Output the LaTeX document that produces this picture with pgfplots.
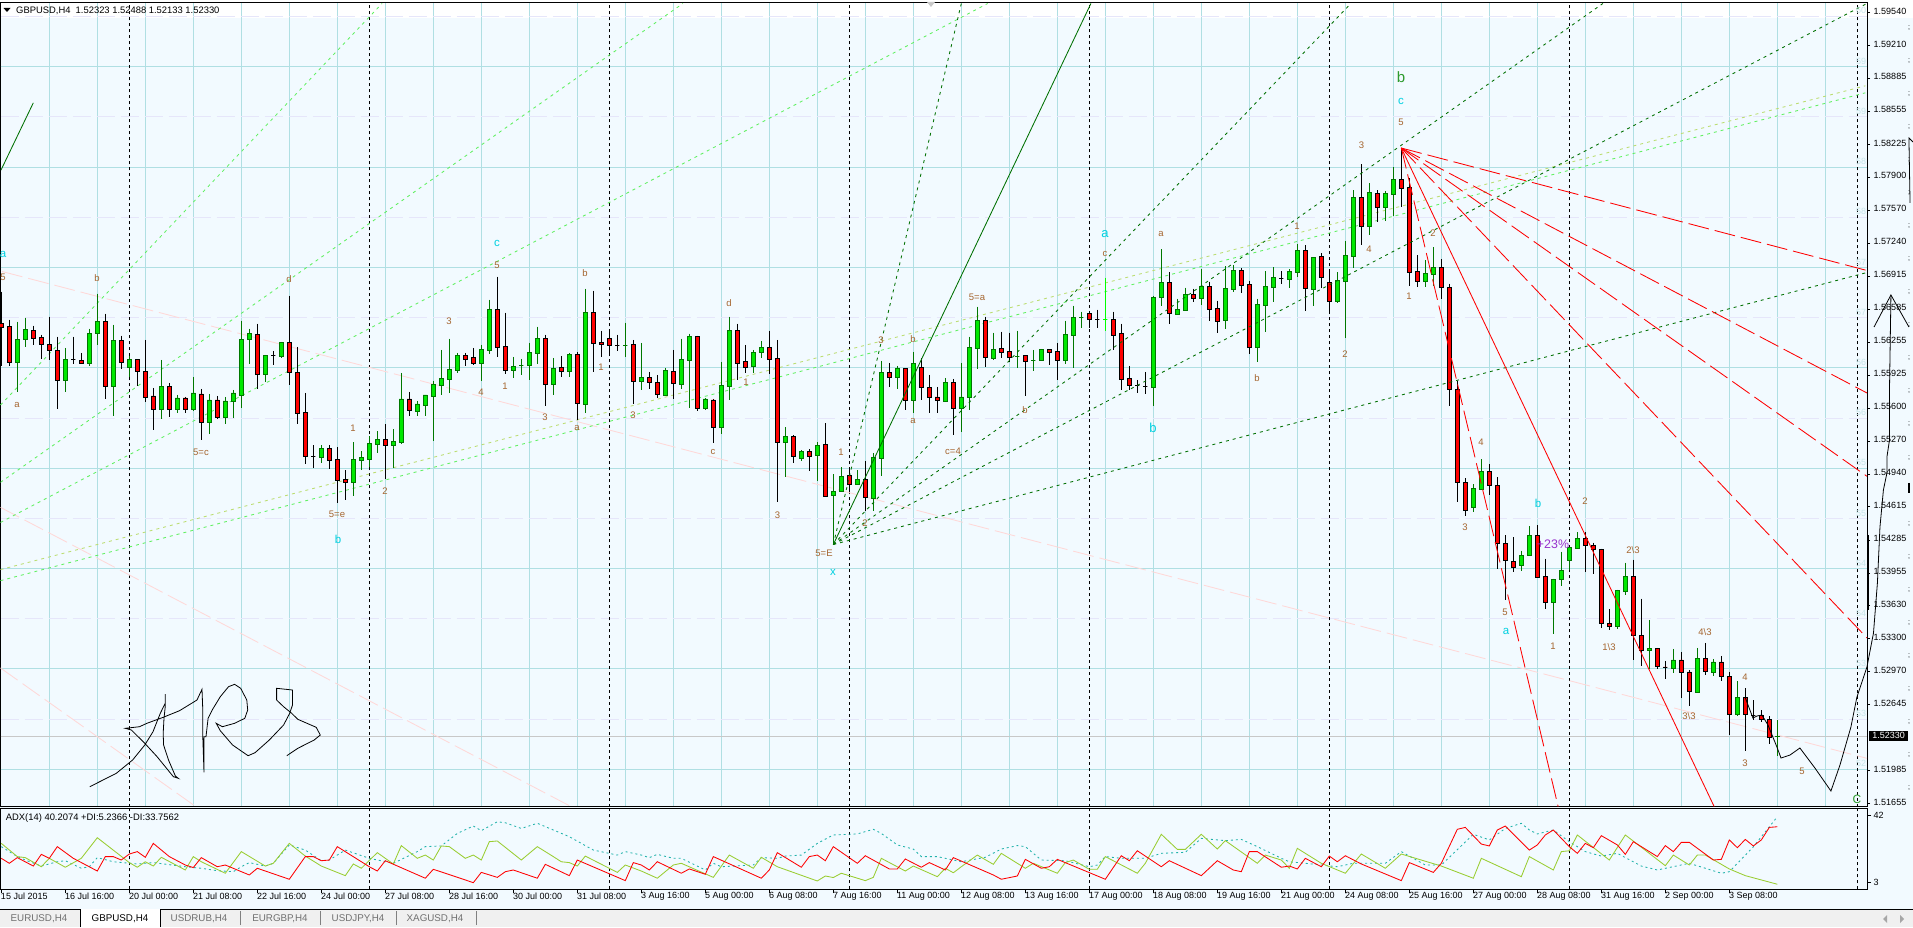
\documentclass[border=0pt]{standalone}
\usepackage{fontspec}
\usepackage{pgfplots}
\pgfplotsset{compat=1.18}
\setmainfont{Liberation Sans}
\definecolor{chartbg}{HTML}{F2FAFF}
\definecolor{gridc}{HTML}{B0DFE3}
\definecolor{gridd}{HTML}{E6E6FA}
\definecolor{upedge}{HTML}{007800}
\definecolor{upfill}{HTML}{00E800}
\definecolor{limeln}{HTML}{60F060}
\definecolor{yellln}{HTML}{BBDD70}
\definecolor{pinkln}{HTML}{FFD8D8}
\definecolor{fanln}{HTML}{007000}
\definecolor{adxg}{HTML}{9ACD32}
\definecolor{adxt}{HTML}{20B2AA}
\definecolor{wave}{HTML}{A5652F}
\definecolor{wavec}{HTML}{00D0E0}
\definecolor{waveg}{HTML}{2E9B2E}
\definecolor{faint}{HTML}{C8E6EA}
\definecolor{tabbg}{HTML}{F0F0F0}
\definecolor{tabtx}{HTML}{707070}
\definecolor{bidln}{HTML}{C8C8C8}
\definecolor{purp}{HTML}{9932CC}
% body and wick of one candle
\newcommand\body[6]{%
  \pgfmathsetmacro\xa{#1-0.26}\pgfmathsetmacro\xb{#1+0.26}%
  \edef\tmp{\noexpand\addplot[draw=#5,fill=#6,line width=0.9pt] coordinates {(\xa,#2)(\xb,#2)(\xb,#3)(\xa,#3)(\xa,#2)};}\tmp}
% i open high low close
\def\U#1 #2 #3 #4 #5;{\addplot[upedge,line width=0.9pt] coordinates {(#1,#3)(#1,#4)};\body{#1}{#2}{#5}{}{upedge}{upfill}}
\def\D#1 #2 #3 #4 #5;{\addplot[black,line width=0.9pt] coordinates {(#1,#3)(#1,#4)};\body{#1}{#2}{#5}{}{black}{red}}
\def\L#1 #2 #3 #4 #5;{\addplot[green,line width=0.9pt] coordinates {(#1,#3)(#1,#4)};\body{#1}{#2}{#5}{}{green}{green}}
\newcommand\lbl[5]{\node[text=#3,font=\fontsize{#4}{#4}\selectfont,inner sep=0pt] at (#1,{927-#2}) {#5};}
\pgfplotsset{px/.style={x filter/.expression={(x-1.3)/8},y filter/.expression={1.59665-y*0.00009963}},
  fine/.style={line width=0.85pt,dash pattern=on 3pt off 4pt},
  long/.style={line width=0.85pt,dash pattern=on 21pt off 6pt}}
\begin{document}
\begin{tikzpicture}
\useasboundingbox (0pt,0pt) rectangle (1913pt,927pt);
\fill[chartbg] (0pt,0pt) rectangle (1913pt,909pt);
\fill[white] (0pt,925pt) rectangle (1913pt,927pt);
\begin{axis}[
    name=main,
    at={(0.5pt,120.5pt)},anchor=south west,
    scale only axis,width=1866.5pt,height=803.5pt,
    xmin=-0.1,xmax=233.2125,ymin=1.5163,ymax=1.59635,
    clip=false,no markers,
    axis line style={black,line width=1pt},
    xtick={6,12,...,228},xticklabels={},x tick style={draw=none},
    xmajorgrids=true,
    major grid style={gridc,line width=1pt},
    ytick={1.5954,1.5921,1.58885,1.58555,1.58225,1.579,1.5757,1.5724,1.56915,1.56585,1.56255,1.55925,1.556,1.5527,1.5494,1.54615,1.54285,1.53955,1.5363,1.533,1.5297,1.52645,1.51985,1.51655},
    yticklabels={1.59540,1.59210,1.58885,1.58555,1.58225,1.57900,1.57570,1.57240,1.56915,1.56585,1.56255,1.55925,1.55600,1.55270,1.54940,1.54615,1.54285,1.53955,1.53630,1.53300,1.52970,1.52645,1.51985,1.51655},
    ytick pos=right,yticklabel pos=right,tick align=outside,
    major tick length=3pt,minor tick length=0pt,
    y tick style={black,line width=1pt},
    yticklabel style={font=\fontsize{9}{9}\selectfont,anchor=west,inner sep=0pt,xshift=3.5pt,yshift=1.5pt},
    /pgf/number format/assume math mode=true,
    extra y ticks={1.59,1.58,1.57,1.56,1.55,1.54,1.53,1.52},
    extra y tick labels={},
    extra y tick style={grid=major,major tick length=0pt},
    minor ytick={1.595,1.585,1.575,1.565,1.555,1.545,1.535,1.525},
    yminorgrids=true,
    minor grid style={gridd,line width=1pt,dash pattern=on 18pt off 6pt},
  ]
  \addplot[bidln,line width=1pt] coordinates {(-0.1,1.5233)(233.2,1.5233)};
  \pgfplotsinvokeforeach{16,46,76,106,136,166,196,232}{
    \addplot[black,line width=0.9pt,dash pattern=on 3pt off 3pt] coordinates {(#1,1.5163)(#1,1.59635)};}
  % pale lines
  \addplot[pinkln,long] coordinates {(0.1,1.5696)(233.2,1.5211)};
  \addplot[pinkln,long] coordinates {(-0.1,1.5461)(71.2,1.5163)};
  \addplot[pinkln,long] coordinates {(-0.1,1.5301)(24.3,1.5163)};
  \addplot[limeln,fine] coordinates {(-0.1,1.5563)(47.6,1.5963)};
  \addplot[limeln,fine] coordinates {(-0.1,1.5486)(85.2,1.5963)};
  \addplot[limeln,fine] coordinates {(-0.1,1.5446)(123.3,1.5963)};
  \addplot[yellln,fine] coordinates {(-0.1,1.5399)(233,1.5881)};
  \addplot[limeln,fine] coordinates {(-0.1,1.5388)(233,1.5874)};
  % candles
\D 0 1.5644 1.5676 1.5602 1.5640;
\D 1 1.5641 1.5648 1.5602 1.5605;
\U 2 1.5605 1.5646 1.5576 1.5628;
\U 3 1.5628 1.5650 1.5621 1.5638;
\D 4 1.5637 1.5642 1.5623 1.5629;
\D 5 1.5630 1.5633 1.5609 1.5623;
\D 6 1.5623 1.5651 1.5608 1.5617;
\D 7 1.5617 1.5631 1.5559 1.5587;
\U 8 1.5587 1.5620 1.5576 1.5608;
\D 9 1.5608 1.5631 1.5604 1.5608;
\D 10 1.5607 1.5615 1.5604 1.5604;
\U 11 1.5604 1.5639 1.5602 1.5634;
\U 12 1.5634 1.5674 1.5623 1.5646;
\D 13 1.5646 1.5654 1.5569 1.5581;
\U 14 1.5581 1.5643 1.5552 1.5627;
\D 15 1.5627 1.5632 1.5599 1.5605;
\U 16 1.5600 1.5612 1.5591 1.5608;
\D 17 1.5608 1.5608 1.5582 1.5596;
\D 18 1.5596 1.5628 1.5566 1.5571;
\D 19 1.5572 1.5580 1.5538 1.5559;
\U 20 1.5559 1.5608 1.5549 1.5581;
\D 21 1.5581 1.5585 1.5551 1.5559;
\U 22 1.5559 1.5573 1.5555 1.5570;
\D 23 1.5570 1.5571 1.5555 1.5559;
\U 24 1.5559 1.5591 1.5557 1.5575;
\D 25 1.5574 1.5579 1.5528 1.5546;
\U 26 1.5546 1.5574 1.5534 1.5568;
\D 27 1.5568 1.5572 1.5549 1.5551;
\U 28 1.5551 1.5571 1.5544 1.5567;
\U 29 1.5567 1.5578 1.5550 1.5575;
\U 30 1.5573 1.5647 1.5560 1.5628;
\U 31 1.5628 1.5639 1.5604 1.5634;
\D 32 1.5633 1.5644 1.5579 1.5593;
\U 33 1.5593 1.5613 1.5586 1.5612;
\D 34 1.5612 1.5617 1.5603 1.5612;
\U 35 1.5611 1.5626 1.5610 1.5625;
\D 36 1.5625 1.5672 1.5583 1.5595;
\D 37 1.5595 1.5621 1.5544 1.5555;
\D 38 1.5556 1.5575 1.5504 1.5512;
\D 39 1.5512 1.5523 1.5500 1.5512;
\U 40 1.5511 1.5523 1.5505 1.5520;
\D 41 1.5520 1.5523 1.5499 1.5508;
\D 42 1.5509 1.5521 1.5465 1.5488;
\D 43 1.5489 1.5498 1.5468 1.5486;
\U 44 1.5486 1.5526 1.5472 1.5509;
\U 45 1.5508 1.5517 1.5498 1.5511;
\U 46 1.5509 1.5532 1.5501 1.5525;
\U 47 1.5524 1.5537 1.5515 1.5529;
\D 48 1.5529 1.5544 1.5489 1.5523;
\U 49 1.5523 1.5539 1.5500 1.5527;
\U 50 1.5526 1.5595 1.5524 1.5569;
\D 51 1.5569 1.5576 1.5552 1.5558;
\U 52 1.5557 1.5567 1.5552 1.5564;
\U 53 1.5563 1.5573 1.5552 1.5573;
\U 54 1.5572 1.5587 1.5527 1.5583;
\U 55 1.5582 1.5618 1.5573 1.5589;
\U 56 1.5588 1.5629 1.5575 1.5598;
\U 57 1.5597 1.5615 1.5595 1.5612;
\D 58 1.5612 1.5615 1.5602 1.5608;
\D 59 1.5610 1.5620 1.5603 1.5604;
\U 60 1.5604 1.5623 1.5587 1.5618;
\U 61 1.5617 1.5668 1.5614 1.5658;
\D 62 1.5658 1.5691 1.5611 1.5620;
\D 63 1.5621 1.5655 1.5594 1.5597;
\U 64 1.5597 1.5611 1.5590 1.5601;
\U 65 1.5602 1.5609 1.5593 1.5602;
\U 66 1.5602 1.5625 1.5588 1.5615;
\U 67 1.5614 1.5641 1.5604 1.5629;
\D 68 1.5629 1.5633 1.5562 1.5583;
\U 69 1.5583 1.5610 1.5573 1.5599;
\D 70 1.5600 1.5612 1.5591 1.5596;
\U 71 1.5596 1.5615 1.5591 1.5613;
\D 72 1.5613 1.5616 1.5548 1.5565;
\U 73 1.5564 1.5679 1.5555 1.5655;
\D 74 1.5655 1.5677 1.5596 1.5624;
\D 75 1.5625 1.5637 1.5611 1.5623;
\D 76 1.5629 1.5638 1.5614 1.5622;
\D 77 1.5622 1.5633 1.5617 1.5622;
\U 78 1.5622 1.5645 1.5611 1.5622;
\D 79 1.5623 1.5628 1.5564 1.5586;
\U 80 1.5586 1.5625 1.5578 1.5590;
\D 81 1.5590 1.5596 1.5579 1.5585;
\D 82 1.5585 1.5593 1.5570 1.5574;
\U 83 1.5573 1.5600 1.5573 1.5597;
\D 84 1.5596 1.5618 1.5569 1.5584;
\U 85 1.5583 1.5629 1.5579 1.5608;
\U 86 1.5607 1.5634 1.5560 1.5631;
\D 87 1.5631 1.5632 1.5557 1.5560;
\U 88 1.5560 1.5570 1.5558 1.5569;
\D 89 1.5568 1.5569 1.5525 1.5541;
\U 90 1.5541 1.5606 1.5534 1.5582;
\U 91 1.5581 1.5651 1.5568 1.5637;
\D 92 1.5637 1.5644 1.5588 1.5604;
\D 93 1.5606 1.5623 1.5595 1.5600;
\U 94 1.5601 1.5618 1.5595 1.5615;
\U 95 1.5615 1.5627 1.5610 1.5620;
\D 96 1.5620 1.5637 1.5594 1.5608;
\D 97 1.5609 1.5628 1.5466 1.5526;
\U 98 1.5526 1.5541 1.5491 1.5532;
\D 99 1.5532 1.5533 1.5505 1.5512;
\U 100 1.5510 1.5518 1.5507 1.5517;
\D 101 1.5517 1.5519 1.5497 1.5512;
\U 102 1.5513 1.5526 1.5487 1.5523;
\D 103 1.5524 1.5545 1.5472 1.5472;
\U 104 1.5473 1.5494 1.5424 1.5477;
\U 105 1.5477 1.5501 1.5477 1.5492;
\D 106 1.5493 1.5500 1.5477 1.5484;
\U 107 1.5484 1.5498 1.5484 1.5489;
\D 108 1.5489 1.5507 1.5457 1.5471;
\U 109 1.5470 1.5515 1.5457 1.5511;
\U 110 1.5510 1.5607 1.5492 1.5595;
\D 111 1.5595 1.5605 1.5581 1.5590;
\U 112 1.5590 1.5602 1.5579 1.5599;
\D 113 1.5599 1.5599 1.5558 1.5568;
\U 114 1.5568 1.5616 1.5555 1.5604;
\D 115 1.5600 1.5610 1.5568 1.5580;
\D 116 1.5580 1.5593 1.5555 1.5571;
\D 117 1.5571 1.5581 1.5555 1.5568;
\U 118 1.5567 1.5590 1.5567 1.5585;
\D 119 1.5585 1.5589 1.5533 1.5560;
\U 120 1.5560 1.5605 1.5536 1.5571;
\U 121 1.5571 1.5631 1.5558 1.5620;
\U 122 1.5619 1.5661 1.5599 1.5647;
\D 123 1.5647 1.5651 1.5601 1.5610;
\U 124 1.5609 1.5635 1.5608 1.5618;
\D 125 1.5619 1.5636 1.5610 1.5615;
\D 126 1.5616 1.5635 1.5606 1.5610;
\U 127 1.5611 1.5637 1.5600 1.5611;
\D 128 1.5612 1.5612 1.5572 1.5606;
\U 129 1.5607 1.5618 1.5597 1.5607;
\U 130 1.5607 1.5619 1.5607 1.5618;
\D 131 1.5618 1.5618 1.5603 1.5615;
\D 132 1.5616 1.5625 1.5588 1.5607;
\U 133 1.5607 1.5647 1.5604 1.5633;
\U 134 1.5632 1.5662 1.5600 1.5650;
\U 135 1.5650 1.5656 1.5640 1.5650;
\D 136 1.5654 1.5657 1.5640 1.5648;
\D 137 1.5648 1.5658 1.5640 1.5648;
\L 138 1.5648 1.5690 1.5637 1.5648;
\D 139 1.5648 1.5656 1.5618 1.5632;
\D 140 1.5634 1.5644 1.5578 1.5588;
\D 141 1.5589 1.5602 1.5578 1.5582;
\D 142 1.5582 1.5588 1.5575 1.5582;
\D 143 1.5581 1.5596 1.5574 1.5581;
\U 144 1.5580 1.5672 1.5562 1.5670;
\U 145 1.5670 1.5718 1.5662 1.5685;
\D 146 1.5685 1.5695 1.5644 1.5654;
\U 147 1.5653 1.5669 1.5653 1.5658;
\U 148 1.5657 1.5680 1.5657 1.5673;
\D 149 1.5673 1.5679 1.5666 1.5669;
\U 150 1.5669 1.5698 1.5663 1.5681;
\D 151 1.5681 1.5686 1.5647 1.5658;
\D 152 1.5659 1.5667 1.5635 1.5646;
\U 153 1.5647 1.5701 1.5639 1.5679;
\U 154 1.5678 1.5702 1.5676 1.5697;
\D 155 1.5697 1.5699 1.5675 1.5682;
\D 156 1.5683 1.5687 1.5614 1.5620;
\U 157 1.5620 1.5669 1.5606 1.5663;
\U 158 1.5662 1.5696 1.5636 1.5681;
\U 159 1.5680 1.5700 1.5666 1.5690;
\D 160 1.5689 1.5696 1.5684 1.5689;
\U 161 1.5688 1.5698 1.5680 1.5696;
\U 162 1.5695 1.5723 1.5691 1.5717;
\D 163 1.5717 1.5722 1.5657 1.5679;
\U 164 1.5678 1.5710 1.5662 1.5710;
\D 165 1.5711 1.5714 1.5680 1.5690;
\D 166 1.5685 1.5698 1.5657 1.5666;
\U 167 1.5666 1.5695 1.5665 1.5687;
\U 168 1.5686 1.5726 1.5630 1.5712;
\U 169 1.5711 1.5777 1.5699 1.5770;
\D 170 1.5770 1.5803 1.5722 1.5741;
\U 171 1.5741 1.5784 1.5732 1.5775;
\D 172 1.5774 1.5777 1.5745 1.5760;
\U 173 1.5760 1.5776 1.5746 1.5774;
\U 174 1.5773 1.5800 1.5751 1.5788;
\D 175 1.5788 1.5819 1.5760 1.5779;
\D 176 1.5780 1.5789 1.5682 1.5695;
\D 177 1.5696 1.5712 1.5681 1.5686;
\U 178 1.5686 1.5707 1.5681 1.5694;
\U 179 1.5693 1.5720 1.5682 1.5700;
\D 180 1.5700 1.5708 1.5669 1.5680;
\D 181 1.5680 1.5684 1.5562 1.5578;
\D 182 1.5578 1.5587 1.5466 1.5486;
\D 183 1.5486 1.5490 1.5452 1.5458;
\U 184 1.5461 1.5484 1.5456 1.5480;
\U 185 1.5479 1.5509 1.5479 1.5497;
\D 186 1.5497 1.5504 1.5473 1.5483;
\D 187 1.5483 1.5491 1.5400 1.5425;
\D 188 1.5425 1.5433 1.5369 1.5408;
\D 189 1.5407 1.5431 1.5397 1.5401;
\U 190 1.5403 1.5418 1.5398 1.5413;
\U 191 1.5413 1.5442 1.5413 1.5433;
\D 192 1.5433 1.5443 1.5391 1.5391;
\D 193 1.5392 1.5410 1.5360 1.5366;
\U 194 1.5366 1.5390 1.5335 1.5389;
\U 195 1.5389 1.5417 1.5383 1.5398;
\U 196 1.5408 1.5421 1.5399 1.5421;
\U 197 1.5420 1.5436 1.5420 1.5430;
\D 198 1.5430 1.5436 1.5397 1.5423;
\D 199 1.5423 1.5426 1.5395 1.5419;
\D 200 1.5419 1.5420 1.5341 1.5345;
\D 201 1.5345 1.5360 1.5339 1.5342;
\U 202 1.5342 1.5379 1.5340 1.5378;
\U 203 1.5377 1.5406 1.5374 1.5392;
\D 204 1.5392 1.5409 1.5309 1.5333;
\D 205 1.5333 1.5370 1.5303 1.5318;
\U 206 1.5318 1.5349 1.5300 1.5320;
\D 207 1.5320 1.5321 1.5300 1.5303;
\D 208 1.5302 1.5308 1.5290 1.5302;
\U 209 1.5301 1.5320 1.5296 1.5309;
\D 210 1.5309 1.5317 1.5271 1.5297;
\D 211 1.5297 1.5299 1.5263 1.5278;
\U 212 1.5277 1.5321 1.5277 1.5310;
\D 213 1.5310 1.5326 1.5294 1.5298;
\U 214 1.5297 1.5310 1.5293 1.5307;
\D 215 1.5307 1.5313 1.5288 1.5293;
\D 216 1.5293 1.5297 1.5234 1.5255;
\U 217 1.5255 1.5288 1.5253 1.5272;
\D 218 1.5272 1.5281 1.5218 1.5255;
\D 219 1.5254 1.5269 1.5249 1.5254;
\D 220 1.5254 1.5259 1.5247 1.5250;
\D 221 1.5250 1.5253 1.5225 1.5232;
\U 222 1.52323 1.52488 1.52133 1.52330;
  % fans
  \addplot[fanln,line width=0.85pt] coordinates {(-0.04,1.5797)(4,1.5864)};
  \addplot[fanln,line width=0.85pt] coordinates {(104,1.5424)(136.2,1.5963)};
  \addplot[fanln,fine] coordinates {(104,1.5424)(120,1.5963)};
  \addplot[fanln,fine] coordinates {(104,1.5424)(168.7,1.5963)};
  \addplot[fanln,fine] coordinates {(104,1.5424)(200.2,1.5963)};
  \addplot[fanln,fine] coordinates {(104,1.5424)(233.2,1.5963)};
  \addplot[fanln,fine] coordinates {(104,1.5424)(233.2,1.5695)};
  \addplot[red,line width=0.85pt] coordinates {(175,1.5819)(214.1,1.5163)};
  \addplot[red,long] coordinates {(175,1.5819)(194.6,1.5163)};
  \addplot[red,long] coordinates {(175,1.5819)(233.2,1.5331)};
  \addplot[red,long] coordinates {(175,1.5819)(233.2,1.5492)};
  \addplot[red,long] coordinates {(175,1.5819)(233.2,1.5575)};
  \addplot[red,long] coordinates {(175,1.5819)(233.2,1.5697)};
  % hand drawn, in screen units
  \addplot[px,black,line width=0.8pt] coordinates {(1745,697)(1753,718)(1757,716)(1762,715)(1768,725)(1777,747)(1781,758)(1790,755)(1800,748)(1815,768)(1831,791)(1840,765)(1851,727)(1857,697)(1867,667)(1873.5,633)(1877.5,583)(1880,527)(1883.5,490)(1887,473)(1887,457)(1889.6,440)(1889.6,390)(1891,296)};
  \addplot[px,black,line width=0.8pt] coordinates {(1874,327)(1891,295)(1909,327)};
  \addplot[px,black,line width=0.8pt] coordinates {(1913,142)(1909,138)(1910,203)};
  \addplot[px,black,line width=0.8pt] coordinates {(89.8,786.7)(116.3,773.3)(132.6,760)(144.8,745)(153,731.7)(160.3,713.3)(165.2,703.3)(165.2,694)(165.2,707.3)(164,718.3)(163.2,733.3)(163.6,745)(168.5,760)(175.4,776)(178.3,778.3)(173.4,776.7)(157.1,756.7)(144.8,743.3)(131.4,730)(125.3,728.3)(130.6,727.7)(139.5,726.7)(146.9,723.3)(163.2,717.3)(179.5,710.7)(197,700)(202,689.3)(202.8,710)(202.8,736.7)(204,772.3)(204,736.7)(206,736.7)(208.1,718.3)(212.2,710)(220.3,696.7)(228.5,686.7)(234.6,684.3)(240.7,688.3)(246.8,700)(247.7,710)(244.8,718.3)(234.6,723.3)(222.4,726.7)(216.2,723.3)(220.3,730.7)(232.6,745)(248.1,755.7)(255,752.7)(269.3,740)(283.6,725)(289.7,713.3)(292.5,705)(292.5,690)(276.6,688.3)(276.6,700)(283.6,706.7)(291.7,713.3)(297.8,719.3)(316.2,727.3)(320.3,735)(314.2,740)(297.8,748.3)(286.8,755.7)};
\end{axis}
\begin{axis}[
    name=sub,
    at={(0.5pt,37.7pt)},anchor=south west,
    scale only axis,width=1866.5pt,height=80.6pt,
    xmin=-0.1,xmax=233.2125,ymin=-0.85,ymax=46.1,
    no markers,
    axis line style={black,line width=1pt},
    xtick={0,8,...,216},
    xticklabels={15 Jul 2015,16 Jul 16:00,20 Jul 00:00,21 Jul 08:00,22 Jul 16:00,24 Jul 00:00,27 Jul 08:00,28 Jul 16:00,30 Jul 00:00,31 Jul 08:00,3 Aug 16:00,5 Aug 00:00,6 Aug 08:00,7 Aug 16:00,11 Aug 00:00,12 Aug 08:00,13 Aug 16:00,17 Aug 00:00,18 Aug 08:00,19 Aug 16:00,21 Aug 00:00,24 Aug 08:00,25 Aug 16:00,27 Aug 00:00,28 Aug 08:00,31 Aug 16:00,2 Sep 00:00,3 Sep 08:00},
    xtick pos=bottom,xticklabel pos=lower,tick align=outside,
    major tick length=4pt,
    tick style={black,line width=1pt},
    xticklabel style={font=\fontsize{9}{9}\selectfont,anchor=north west,inner sep=0pt,xshift=-0.5pt,yshift=1pt},
    ytick={3,42},ytick pos=right,yticklabel pos=right,
    yticklabel style={font=\fontsize{9}{9}\selectfont,anchor=west,inner sep=0pt,xshift=2.5pt},
    /pgf/number format/assume math mode=true,
  ]
  \pgfplotsinvokeforeach{16,46,76,106,136,166,196,232}{
    \addplot[black,line width=0.9pt,dash pattern=on 3pt off 3pt] coordinates {(#1,-0.85)(#1,46.1)};}
  % ADX dotted
  \addplot[adxt,line width=0.85pt,dash pattern=on 2pt off 3pt] coordinates {(0,24.0)(2,18.2)(3,16.2)(5,12.7)(7,15.2)(8,15.8)(10,11.4)(11,12.3)(12,17.6)(14,15.2)(17,13.9)(19,14.7)(23,12.3)(25,11.4)(27,10.0)(29,9.4)(30,12.3)(31,14.7)(33,12.7)(34,14.3)(36,25.0)(38,22.0)(40,15.8)(41,16.2)(43,22.0)(46,17.2)(49,14.3)(52,21.1)(53,24.0)(55,24.4)(57,31.7)(59,36.0)(60,33.3)(62,38.5)(63,37.9)(65,34.6)(67,37.6)(71,29.8)(74,22.0)(77,19.1)(78,21.1)(80,19.1)
    (81,17.6)(82,19.5)(84,17.2)(85,17.2)(88,10.4)(89,14.3)(90,12.3)(94,13.3)(95,17.6)(97,17.2)(98,18.5)(100,19.1)(102,25.9)(104,30.8)(107,31.4)(109,34.1)(110,31.7)(112,25.0)(114,22.6)(115,18.2)(117,18.2)(120,15.2)(123,17.8)(125,22.6)(127,24.6)(128,24.0)(130,16.2)(133,15.8)(136,12.3)(137,13.3)(138,18.2)(140,17.2)(143,17.2)(145,20.1)(148,20.7)(150,28.8)(153,27.5)(155,28.2)(157,24.0)(160,17.2)
    (161,15.2)(163,14.3)(167,12.3)(169,14.3)(173,14.3)(175,21.1)(178,13.3)(180,13.3)(184,31.2)(186,27.9)(188,34.6)(190,37.6)(191,33.7)(192,31.4)(194,33.7)(196,26.9)(198,21.1)(200,18.5)(202,20.1)(205,12.7)(207,10.4)(211,14.3)(213,11.4)(215,8.5)(216,9.4)(219,23.9)(222,41.4)};
  % +DI
  \addplot[adxg,line width=0.85pt] coordinates {(0,25.9)(2,18.2)(3,17.6)(5,12.3)(6,17.2)(8,12.0)(10,17.2)(12,29.2)(16,14.7)(17,12.0)(18,15.2)(19,12.7)(20,17.8)(23,10.4)(24,18.2)(25,15.2)(28,8.5)(30,21.1)(33,12.7)(34,14.3)(36,25.9)(38,18.5)(40,12.7)(43,7.1)(44,13.9)(45,11.4)(47,20.5)(49,13.9)(50,24.6)(52,17.2)(53,19.1)(54,16.2)(55,24.4)(56,24.0)(58,17.2)(59,19.1)(60,16.2)(61,26.9)(62,27.3)(65,16.2)(67,24.0)(69,18.2)(70,15.2)(71,14.7)(72,12.7)(73,18.5)(77,9.0)(78,13.3)(80,9.8)
    (82,5.6)(84,13.3)(85,14.3)(89,6.1)(91,19.1)(94,11.4)(95,17.8)(97,12.3)(102,4.0)(103,6.9)(104,6.0)(105,8.5)(108,4.2)(109,6.1)(110,17.2)(113,9.8)(114,12.7)(117,6.5)(118,11.4)(119,8.8)(120,12.3)(122,19.1)(124,13.7)(125,20.1)(128,11.4)(129,14.3)(132,8.5)(133,14.7)(134,16.2)(136,10.8)(137,10.8)(138,18.2)(142,8.5)(143,14.3)(145,31.2)(147,22.4)(148,22.4)(150,31.2)(152,22.6)(153,27.5)(157,14.3)(158,19.1)(160,16.2)
    (161,11.4)(162,23.0)(165,14.3)(168,8.5)(170,19.7)(173,11.4)(175,19.7)(180,12.7)(184,5.6)(185,17.2)(190,6.5)(191,18.2)(194,10.4)(195,21.1)(196,21.6)(197,30.8)(201,16.2)(203,30.8)(208,12.9)(209,19.1)(211,13.3)(212,19.1)(213,19.1)(216,11.0)(218,7.1)(222,2.1)};
  % -DI
  \addplot[red,line width=0.85pt] coordinates {(0,17.2)(1,14.3)(2,17.6)(4,12.7)(5,19.5)(6,17.2)(7,24.0)(9,17.2)(12,9.8)(13,18.2)(14,18.2)(15,16.2)(16,19.7)(17,21.1)(18,17.8)(19,25.9)(21,18.2)(23,13.3)(24,11.8)(25,17.6)(27,12.3)(28,13.3)(31,7.5)(32,11.4)(36,5.0)(38,18.2)(39,18.2)(40,15.8)(41,16.2)(42,24.0)(46,12.3)(47,9.8)(48,15.8)(53,5.6)(54,10.8)(58,4.6)(59,3.0)(60,9.0)(62,6.1)(63,9.4)(64,10.4)(67,5.6)(68,13.7)(71,7.1)(72,16.2)(78,4.2)(79,14.7)(80,13.3)
    (81,10.4)(82,15.2)(85,8.5)(86,11.0)(88,7.9)(89,18.2)(95,5.6)(96,10.4)(97,20.5)(100,12.0)(101,18.2)(102,19.1)(103,15.8)(104,24.0)(107,14.3)(108,18.7)(111,11.0)(112,11.0)(113,16.8)(115,12.0)(116,14.7)(118,10.4)(119,17.6)(124,7.5)(125,5.0)(127,6.9)(128,16.6)(130,11.4)(131,12.3)(132,16.6)(138,5.0)(140,18.7)(141,15.8)(142,21.6)(145,12.3)(146,15.8)(150,7.1)(152,15.8)(154,10.4)(155,9.4)(156,21.1)(157,21.1)(160,12.0)
    (161,12.7)(162,11.0)(163,17.2)(165,12.3)(166,18.5)(167,15.2)(168,18.7)(170,13.9)(175,4.2)(176,14.7)(179,9.0)(180,14.3)(182,34.1)(183,35.2)(185,25.5)(186,24.4)(187,33.7)(188,36.0)(191,22.0)(192,25.0)(193,30.8)(194,33.7)(196,24.0)(197,20.1)(198,25.9)(199,23.4)(200,30.4)(202,25.0)(203,19.5)(204,26.9)(207,18.2)(208,24.6)(209,21.1)(210,26.5)(211,26.5)(214,16.2)(215,16.6)(216,27.9)(217,23.4)(218,28.2)(219,24.4)(220,27.9)(221,35.2)(222,35.6)};
\end{axis}
\begin{scope}[x=1pt,y=1pt]
% second line under the main panel
\draw[black,line width=1pt] (0,118.5) -- (1867,118.5);
\draw[black,line width=2pt] (1867.5,392) -- (1867.5,317);
\draw[black,line width=2pt] (1909,444) -- (1909,434);
% window titles
\fill[black] (3.5,919) -- (10.5,919) -- (7,915) -- cycle;
\fill[bidln] (927,925) -- (935,925) -- (931,920) -- cycle;
\node[anchor=west,inner sep=0pt,font=\fontsize{9.4}{9.4}\selectfont] at (16,916.3) {GBPUSD,H4\ \ 1.52323 1.52488 1.52133 1.52330};
\node[anchor=west,inner sep=0pt,font=\fontsize{9.4}{9.4}\selectfont] at (5.7,109.3) {ADX(14) 40.2074 +DI:5.2366 -DI:33.7562};
% grid level hints at the right
\lbl{1861}{10}{faint}{9}{60}\lbl{1861}{61}{faint}{9}{59}\lbl{1861}{111}{faint}{9}{59}\lbl{1861}{161}{faint}{9}{58}
\lbl{1861}{211}{faint}{9}{58}\lbl{1861}{262}{faint}{9}{57}\lbl{1861}{312}{faint}{9}{57}\lbl{1861}{362}{faint}{9}{56}
\lbl{1861}{412}{faint}{9}{56}\lbl{1861}{462}{faint}{9}{55}\lbl{1861}{513}{faint}{9}{55}\lbl{1861}{563}{faint}{9}{54}
\lbl{1861}{613}{faint}{9}{54}\lbl{1861}{663}{faint}{9}{53}\lbl{1861}{713}{faint}{9}{53}\lbl{1861}{763}{faint}{9}{52}
% wave labels
\lbl{3}{254}{wavec}{11.5}{a}\lbl{3}{277}{wave}{9.5}{5}\lbl{97}{278}{wave}{9.5}{b}\lbl{17}{405}{wave}{9.5}{a}
\lbl{289}{279}{wave}{9.5}{d}\lbl{353}{428}{wave}{9.5}{1}\lbl{201}{452}{wave}{9.5}{5=c}\lbl{497}{243}{wavec}{11.5}{c}
\lbl{497}{265}{wave}{9.5}{5}\lbl{449}{321}{wave}{9.5}{3}\lbl{481}{392}{wave}{9.5}{4}\lbl{505}{386}{wave}{9.5}{1}
\lbl{545}{417}{wave}{9.5}{3}\lbl{633}{415}{wave}{9.5}{3}\lbl{577}{428}{wave}{9.5}{a}\lbl{585}{273}{wave}{9.5}{b}
\lbl{601}{367}{wave}{9.5}{1}\lbl{385}{491}{wave}{9.5}{2}\lbl{337}{514}{wave}{9.5}{5=e}\lbl{338}{539}{wavec}{11.5}{b}
\lbl{729}{303}{wave}{9.5}{d}\lbl{713}{452}{wave}{9.5}{c}\lbl{746}{382}{wave}{9.5}{1}\lbl{841}{452}{wave}{9.5}{1}
\lbl{881}{340}{wave}{9.5}{3}\lbl{913}{339}{wave}{9.5}{b}\lbl{913}{421}{wave}{9.5}{a}\lbl{977}{297}{wave}{9.5}{5=a}
\lbl{953}{451}{wave}{9.5}{c=4}\lbl{1025}{410}{wave}{9.5}{b}\lbl{1105}{234}{wavec}{13}{a}\lbl{1105}{254}{wave}{9.5}{c}
\lbl{1161}{234}{wave}{9.5}{a}\lbl{1257}{378}{wave}{9.5}{b}\lbl{1153}{428}{wavec}{13}{b}\lbl{777.5}{515}{wave}{9.5}{3}
\lbl{865}{523}{wave}{9.5}{2}\lbl{824}{553}{wave}{9.5}{5=E}\lbl{833}{572}{wavec}{11.5}{x}
\lbl{1401}{77}{waveg}{15}{b}\lbl{1401}{101}{wavec}{11.5}{c}\lbl{1401}{122}{wave}{9.5}{5}\lbl{1361.5}{145}{wave}{9.5}{3}
\lbl{1297}{226}{wave}{9.5}{1}\lbl{1369}{249}{wave}{9.5}{4}\lbl{1433}{233}{wave}{9.5}{2}\lbl{1409}{296}{wave}{9.5}{1}
\lbl{1345}{354}{wave}{9.5}{2}\lbl{1481}{442}{wave}{9.5}{4}\lbl{1465}{527}{wave}{9.5}{3}
\lbl{1538}{503}{wavec}{11.5}{b}\lbl{1585}{501}{wave}{9.5}{2}\lbl{1553}{544}{purp}{12.4}{+23\%}
\lbl{1633}{550}{wave}{9.5}{2\textbackslash 3}\lbl{1505}{612}{wave}{9.5}{5}\lbl{1506}{631}{wavec}{11.5}{a}
\lbl{1553}{646}{wave}{9.5}{1}\lbl{1609}{647}{wave}{9.5}{1\textbackslash 3}\lbl{1705}{632}{wave}{9.5}{4\textbackslash 3}
\lbl{1745}{677}{wave}{9.5}{4}\lbl{1689}{716}{wave}{9.5}{3\textbackslash 3}\lbl{1745}{763}{wave}{9.5}{3}
\lbl{1802}{771}{wave}{9.5}{5}\lbl{1857}{799}{waveg}{12}{C}
% bid box
\node[fill=black,text=white,font=\fontsize{9}{9}\selectfont,inner sep=0pt,minimum width=39pt,minimum height=10pt] at (1888.5,191.3) {1.52330};
\foreach \k in {0,...,23}{\node[inner sep=0pt,font=\fontsize{7}{7}\selectfont] at (1909,{927-28-33.05*\k}) {;};}
% tab bar
\fill[tabbg] (0,0) rectangle (1913,18);
\draw[black,line width=1pt] (0,18) -- (1913,18);
\fill[white] (80.5,0) rectangle (160,18);
\draw[black,line width=1pt] (80.5,0) -- (80.5,18);
\draw[black,line width=1pt] (160,0) -- (160,18);
\foreach \s in {240,320,396,476}{\draw[gray,line width=1pt] (\s,2) -- (\s,16);}
\node[text=tabtx,font=\fontsize{9.8}{9.8}\selectfont] at (39,8) {EURUSD,H4};
\node[font=\fontsize{9.8}{9.8}\selectfont] at (120,8) {GBPUSD,H4};
\node[text=tabtx,font=\fontsize{9.8}{9.8}\selectfont] at (199,8) {USDRUB,H4};
\node[text=tabtx,font=\fontsize{9.8}{9.8}\selectfont] at (280,8) {EURGBP,H4};
\node[text=tabtx,font=\fontsize{9.8}{9.8}\selectfont] at (358,8) {USDJPY,H4};
\node[text=tabtx,font=\fontsize{9.8}{9.8}\selectfont] at (435,8) {XAGUSD,H4};
\fill[gray!70] (1887,12) -- (1887,4) -- (1883,8) -- cycle;
\fill[gray!70] (1900,12) -- (1900,4) -- (1904,8) -- cycle;
\end{scope}
\end{tikzpicture}
\end{document}
